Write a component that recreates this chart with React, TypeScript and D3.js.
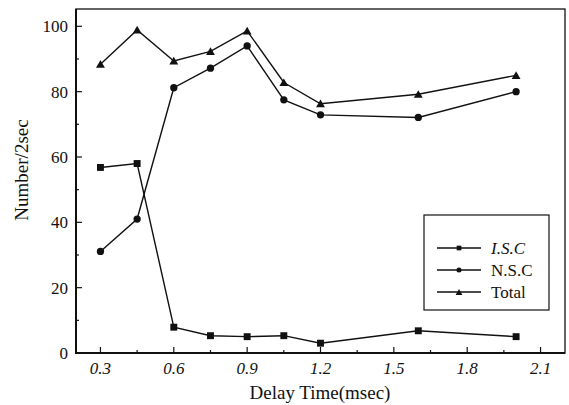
import React from "react";
import * as d3 from "d3";

// delay times (msec)
const delayTimes = [0.3, 0.45, 0.6, 0.75, 0.9, 1.05, 1.2, 1.6, 2.0];
const iscValues = [56.8, 58, 7.9, 5.3, 5.0, 5.3, 3.0, 6.8, 5.0];
const nscValues = [31.1, 41, 81.2, 87.2, 94, 77.5, 72.9, 72.1, 80];
const totalValues = [88.4, 98.9, 89.4, 92.3, 98.6, 82.8, 76.3, 79.2, 85.0];

const xTicks = [0.3, 0.6, 0.9, 1.2, 1.5, 1.8, 2.1];
const xMinorTicks = [0.45, 0.75, 1.05, 1.35, 1.65, 1.95];
const yTicks = [0, 20, 40, 60, 80, 100];
const yMinorTicks = [10, 30, 50, 70, 90];
const seriesNames = ["I.S.C", "N.S.C", "Total"];

const width = 569;
const height = 405;
const margin = { top: 9, right: 4, bottom: 52, left: 76 };
const font = "Liberation Serif, serif";
const ink = "#111";

const App = () => {
  const x = d3
    .scaleLinear()
    .domain([0.2, 2.2])
    .range([margin.left, width - margin.right]);
  const y = d3
    .scaleLinear()
    .domain([0, 105.3])
    .range([height - margin.bottom, margin.top]);

  const bottom = height - margin.bottom;
  const right = width - margin.right;

  const line = d3
    .line<number>()
    .x((_, i) => x(delayTimes[i]))
    .y((d) => y(d));

  const series = [iscValues, nscValues, totalValues];
  const symbols = [d3.symbolSquare, d3.symbolCircle, d3.symbolTriangle];
  const symbolSizes = [48, 42, 34];
  const legendSizes = [22, 20, 20];

  return (
    <div style={{ position: "absolute", left: 0, top: 0 }}>
      <svg width={width} height={height} style={{ display: "block" }} fontFamily={font}>
        {/* frame */}
        <rect
          x={margin.left}
          y={margin.top}
          width={right - margin.left}
          height={bottom - margin.top}
          fill="none"
          stroke={ink}
          strokeWidth={1.3}
        />
        <path
          d={`M${margin.left},${margin.top}V${bottom}H${right}`}
          fill="none"
          stroke={ink}
          strokeWidth={2}
        />

        {/* x ticks (inward) */}
        {xTicks.map((t) => (
          <line key={"xt" + t} x1={x(t)} x2={x(t)} y1={bottom} y2={bottom - 6} stroke={ink} strokeWidth={1.2} />
        ))}
        {xMinorTicks.map((t) => (
          <line key={"xm" + t} x1={x(t)} x2={x(t)} y1={bottom} y2={bottom - 3} stroke={ink} strokeWidth={1.2} />
        ))}
        {yTicks.map((t) => (
          <line key={"yt" + t} x1={margin.left} x2={margin.left + 6} y1={y(t)} y2={y(t)} stroke={ink} strokeWidth={1.2} />
        ))}
        {yMinorTicks.map((t) => (
          <line key={"ym" + t} x1={margin.left} x2={margin.left + 3} y1={y(t)} y2={y(t)} stroke={ink} strokeWidth={1.2} />
        ))}

        {/* tick labels */}
        {xTicks.map((t) => (
          <text
            key={"xl" + t}
            x={x(t)}
            y={bottom + 21}
            textAnchor="middle"
            fontStyle="italic"
            fontSize={17}
            fill={ink}
          >
            {t.toFixed(1)}
          </text>
        ))}
        {yTicks.map((t) => (
          <text key={"yl" + t} x={margin.left - 8} y={y(t) + 6} textAnchor="end" fontSize={17} fill={ink}>
            {t}
          </text>
        ))}

        {/* axis titles */}
        <text x={320} y={399} textAnchor="middle" fontSize={19} fill={ink}>
          Delay Time(msec)
        </text>
        <text transform="translate(28,170) rotate(-90)" textAnchor="middle" fontSize={19} fill={ink}>
          Number/2sec
        </text>

        {/* series */}
        {series.map((vals, si) => (
          <g key={"s" + si}>
            <path d={line(vals) || ""} fill="none" stroke={ink} strokeWidth={1.4} />
            {vals.map((v, i) => (
              <path
                key={i}
                transform={`translate(${x(delayTimes[i])},${y(v) + (si === 2 ? 1 : 0)})`}
                d={d3.symbol().type(symbols[si]).size(symbolSizes[si])() || ""}
                fill={ink}
              />
            ))}
          </g>
        ))}

        {/* legend */}
        <g>
          <rect x={424} y={215} width={125} height={95} fill="#fff" stroke={ink} strokeWidth={1.2} />
          {seriesNames.map((name, i) => {
            const ly = 248 + i * 22;
            return (
              <g key={name}>
                <line x1={437} x2={481} y1={ly} y2={ly} stroke={ink} strokeWidth={1.3} />
                <path
                  transform={`translate(459,${ly + (i === 2 ? 1 : 0)})`}
                  d={d3.symbol().type(symbols[i]).size(legendSizes[i])() || ""}
                  fill={ink}
                />
                <text x={491} y={ly + 6} fontSize={17} fontStyle={i === 0 ? "italic" : "normal"} fill={ink}>
                  {name}
                </text>
              </g>
            );
          })}
        </g>
      </svg>
    </div>
  );
};

export default App;
